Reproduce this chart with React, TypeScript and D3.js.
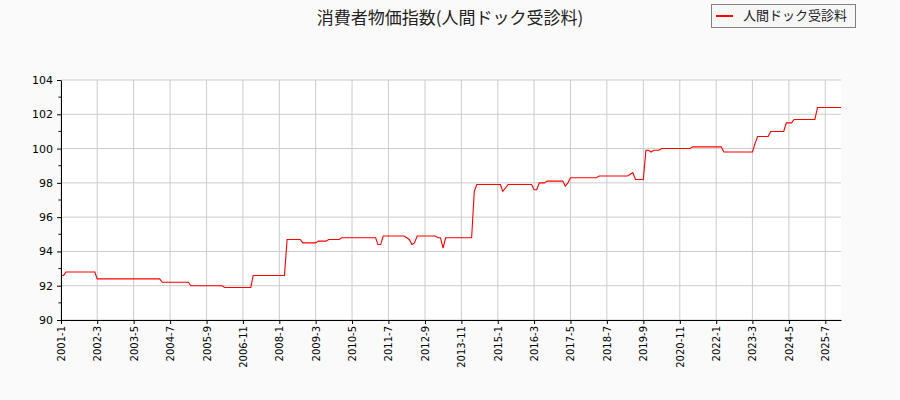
import { useEffect, useRef } from 'react';
import * as d3 from 'd3';

const WIDTH = 900;
const HEIGHT = 400;
const MARGIN = { top: 80, right: 59, bottom: 80, left: 61 };

const TITLE = '消費者物価指数(人間ドック受診料)';
const SERIES_NAME = '人間ドック受診料';

// 月次データ（2001-1 から）
const START_MONTH = '2001-1';
const VALUES = [
  // 2001
  92.6, 92.6, 92.8, 92.8, 92.8, 92.8, 92.8, 92.8, 92.8, 92.8, 92.8, 92.8,
  // 2002
  92.8, 92.8, 92.4, 92.4, 92.4, 92.4, 92.4, 92.4, 92.4, 92.4, 92.4, 92.4,
  // 2003
  92.4, 92.4, 92.4, 92.4, 92.4, 92.4, 92.4, 92.4, 92.4, 92.4, 92.4, 92.4,
  // 2004
  92.4, 92.4, 92.4, 92.2, 92.2, 92.2, 92.2, 92.2, 92.2, 92.2, 92.2, 92.2,
  // 2005
  92.2, 92.2, 92.0, 92.0, 92.0, 92.0, 92.0, 92.0, 92.0, 92.0, 92.0, 92.0,
  // 2006
  92.0, 92.0, 92.0, 91.9, 91.9, 91.9, 91.9, 91.9, 91.9, 91.9, 91.9, 91.9,
  // 2007
  91.9, 91.9, 92.6, 92.6, 92.6, 92.6, 92.6, 92.6, 92.6, 92.6, 92.6, 92.6,
  // 2008
  92.6, 92.6, 92.6, 94.7, 94.7, 94.7, 94.7, 94.7, 94.7, 94.5, 94.5, 94.5,
  // 2009
  94.5, 94.5, 94.5, 94.6, 94.6, 94.6, 94.6, 94.7, 94.7, 94.7, 94.7, 94.7,
  // 2010
  94.8, 94.8, 94.8, 94.8, 94.8, 94.8, 94.8, 94.8, 94.8, 94.8, 94.8, 94.8,
  // 2011
  94.8, 94.8, 94.4, 94.4, 94.9, 94.9, 94.9, 94.9, 94.9, 94.9, 94.9, 94.9,
  // 2012
  94.9, 94.8, 94.7, 94.4, 94.5, 94.9, 94.9, 94.9, 94.9, 94.9, 94.9, 94.9,
  // 2013
  94.9, 94.8, 94.8, 94.2, 94.8, 94.8, 94.8, 94.8, 94.8, 94.8, 94.8, 94.8,
  // 2014
  94.8, 94.8, 94.8, 97.5, 97.9, 97.9, 97.9, 97.9, 97.9, 97.9, 97.9, 97.9,
  // 2015
  97.9, 97.9, 97.5, 97.7, 97.9, 97.9, 97.9, 97.9, 97.9, 97.9, 97.9, 97.9,
  // 2016
  97.9, 97.9, 97.6, 97.6, 98.0, 98.0, 98.0, 98.1, 98.1, 98.1, 98.1, 98.1,
  // 2017
  98.1, 98.1, 97.8, 98.0, 98.3, 98.3, 98.3, 98.3, 98.3, 98.3, 98.3, 98.3,
  // 2018
  98.3, 98.3, 98.3, 98.4, 98.4, 98.4, 98.4, 98.4, 98.4, 98.4, 98.4, 98.4,
  // 2019
  98.4, 98.4, 98.4, 98.5, 98.6, 98.2, 98.2, 98.2, 98.2, 99.9, 99.9, 99.8,
  // 2020
  99.9, 99.9, 99.9, 100.0, 100.0, 100.0, 100.0, 100.0, 100.0, 100.0, 100.0, 100.0,
  // 2021
  100.0, 100.0, 100.0, 100.1, 100.1, 100.1, 100.1, 100.1, 100.1, 100.1, 100.1, 100.1,
  // 2022
  100.1, 100.1, 100.1, 99.8, 99.8, 99.8, 99.8, 99.8, 99.8, 99.8, 99.8, 99.8,
  // 2023
  99.8, 99.8, 99.8, 100.3, 100.7, 100.7, 100.7, 100.7, 100.7, 101.0, 101.0, 101.0,
  // 2024
  101.0, 101.0, 101.0, 101.5, 101.5, 101.5, 101.7, 101.7, 101.7, 101.7, 101.7, 101.7,
  // 2025
  101.7, 101.7, 101.7, 102.4, 102.4, 102.4, 102.4, 102.4, 102.4, 102.4, 102.4, 102.4,
  // 2026
  102.4,
];

const X_TICKS = [
  '2001-1', '2002-3', '2003-5', '2004-7', '2005-9', '2006-11', '2008-1', '2009-3',
  '2010-5', '2011-7', '2012-9', '2013-11', '2015-1', '2016-3', '2017-5', '2018-7',
  '2019-9', '2020-11', '2022-1', '2023-3', '2024-5', '2025-7',
];
const Y_TICKS = [90, 92, 94, 96, 98, 100, 102, 104];
const Y_MINOR_TICKS = [91, 93, 95, 97, 99, 101, 103];
const Y_DOMAIN = [90, 104];

const parseMonth = d3.timeParse('%Y-%m');
const FONT = '"DejaVu Sans", sans-serif';
const JP_FONT = '"Noto Sans CJK JP", "DejaVu Sans", sans-serif';

type Point = { date: Date; value: number };

export default function App() {
  const svgRef = useRef<SVGSVGElement>(null);

  useEffect(() => {
    if (!svgRef.current) return;
    const svg = d3.select(svgRef.current);
    svg.selectAll('*').remove();

    const boundsWidth = WIDTH - MARGIN.left - MARGIN.right;
    const boundsHeight = HEIGHT - MARGIN.top - MARGIN.bottom;

    const start = parseMonth(START_MONTH)!;
    const data: Point[] = VALUES.map((v, i) => ({ date: d3.timeMonth.offset(start, i), value: v }));

    const xScale = d3
      .scaleTime()
      .domain(d3.extent(data, (d) => d.date) as [Date, Date])
      .range([0, boundsWidth]);
    const yScale = d3.scaleLinear().domain(Y_DOMAIN).range([boundsHeight, 0]);

    // 背景
    svg.append('rect').attr('width', WIDTH).attr('height', HEIGHT).attr('fill', '#fafafa');

    const g = svg.append('g').attr('transform', `translate(${MARGIN.left}, ${MARGIN.top})`);
    g.append('rect').attr('width', boundsWidth).attr('height', boundsHeight).attr('fill', '#ffffff');

    const xTickDates = X_TICKS.map((t) => parseMonth(t)!);

    // グリッド
    g.append('g')
      .selectAll('line')
      .data(xTickDates)
      .join('line')
      .attr('x1', (d) => xScale(d))
      .attr('x2', (d) => xScale(d))
      .attr('y1', 0)
      .attr('y2', boundsHeight)
      .attr('stroke', '#cccccc')
      .attr('stroke-width', 1);
    g.append('g')
      .selectAll('line')
      .data(Y_TICKS)
      .join('line')
      .attr('x1', 0)
      .attr('x2', boundsWidth)
      .attr('y1', (d) => yScale(d))
      .attr('y2', (d) => yScale(d))
      .attr('stroke', '#cccccc')
      .attr('stroke-width', 1);

    // 折れ線
    const line = d3
      .line<Point>()
      .x((d) => xScale(d.date))
      .y((d) => yScale(d.value));
    g.append('path')
      .datum(data)
      .attr('d', line)
      .attr('fill', 'none')
      .attr('stroke', '#ff0000')
      .attr('stroke-width', 1.1);

    // X軸
    const xAxis = g
      .append('g')
      .attr('transform', `translate(0, ${boundsHeight})`)
      .call(
        d3
          .axisBottom(xScale)
          .tickValues(xTickDates)
          .tickFormat((_, i) => X_TICKS[i])
          .tickSize(4)
          .tickSizeOuter(0)
      );
    xAxis
      .selectAll('text')
      .attr('transform', 'rotate(-90)')
      .attr('text-anchor', 'end')
      .attr('x', -6)
      .attr('y', 0)
      .attr('dy', '0.35em')
      .style('font-family', FONT)
      .style('font-size', '10px')
      .style('fill', '#000');

    // Y軸
    const yAxis = g.append('g').call(
      d3.axisLeft(yScale).tickValues(Y_TICKS).tickSize(4).tickSizeOuter(0).tickPadding(4)
    );
    yAxis.selectAll('text').style('font-family', FONT).style('font-size', '11px').style('fill', '#000');
    g.append('g')
      .selectAll('line')
      .data(Y_MINOR_TICKS)
      .join('line')
      .attr('x1', -2.5)
      .attr('x2', 0)
      .attr('y1', (d) => yScale(d))
      .attr('y2', (d) => yScale(d))
      .attr('stroke', '#000');

    // タイトル
    svg
      .append('text')
      .attr('x', WIDTH / 2)
      .attr('y', 19)
      .attr('text-anchor', 'middle')
      .attr('dominant-baseline', 'middle')
      .style('font-family', JP_FONT)
      .style('font-size', '17px')
      .style('fill', '#222')
      .text(TITLE);

    // 凡例
    const legend = svg.append('g').attr('transform', 'translate(711, 4)');
    legend
      .append('rect')
      .attr('x', 0.5)
      .attr('y', 0.5)
      .attr('width', 144)
      .attr('height', 23)
      .attr('fill', '#f7f7f7')
      .attr('stroke', '#808080');
    legend
      .append('line')
      .attr('x1', 5)
      .attr('x2', 22)
      .attr('y1', 12)
      .attr('y2', 12)
      .attr('stroke', '#ff0000')
      .attr('stroke-width', 2);
    legend
      .append('text')
      .attr('x', 32)
      .attr('y', 12)
      .attr('dominant-baseline', 'middle')
      .style('font-family', JP_FONT)
      .style('font-size', '13px')
      .style('fill', '#222')
      .text(SERIES_NAME);
  }, []);

  return (
    <svg
      ref={svgRef}
      width={WIDTH}
      height={HEIGHT}
      style={{ position: 'fixed', left: 0, top: 0 }}
    />
  );
}
